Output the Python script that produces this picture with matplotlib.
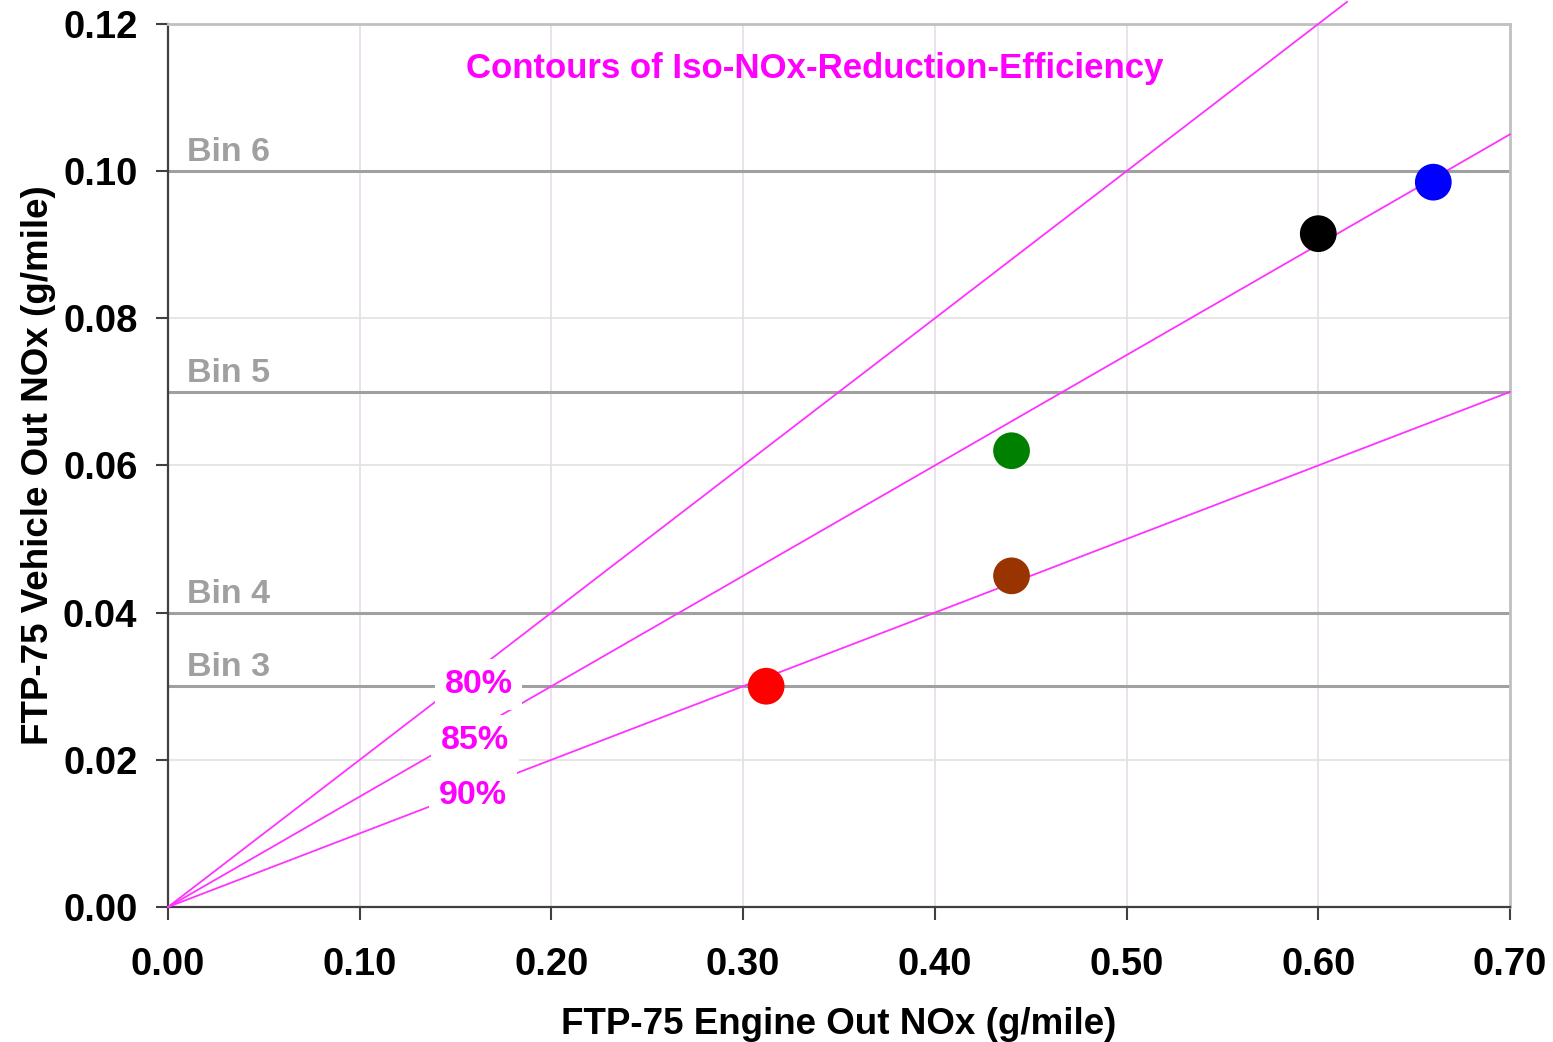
import matplotlib.pyplot as plt
import numpy as np

plt.rcParams['font.family'] = ['Liberation Sans', 'DejaVu Sans']
plt.rcParams['font.weight'] = 'bold'

# data
pt_x = [0.312, 0.44, 0.44, 0.60, 0.66]
pt_y = [0.030, 0.045, 0.062, 0.0915, 0.0985]
pt_colors = ['#ff0000', '#993300', '#008000', '#000000', '#0000ff']

eff_labels = ['80%', '85%', '90%']
eff_values = [0.80, 0.85, 0.90]
eff_label_pos = [(0.162, 0.0302), (0.160, 0.0226), (0.159, 0.0152)]

bin_names = ['Bin 3', 'Bin 4', 'Bin 5', 'Bin 6']
bin_levels = [0.03, 0.04, 0.07, 0.10]

fig = plt.figure(figsize=(15.53, 10.42), dpi=100)
ax = fig.add_axes([0.1082, 0.1296, 0.8641, 0.8474])
ax.set_xlim(0, 0.70)
ax.set_ylim(0, 0.12)

# grid
for gx in np.arange(0.1, 0.70, 0.1):
    ax.axvline(gx, color='#e6dcea', lw=1.2, zorder=0)
for gy in np.arange(0.02, 0.12, 0.02):
    ax.axhline(gy, color='#e2e2e2', lw=1.2, zorder=0)

# bin lines
for name, lv in zip(bin_names, bin_levels):
    ax.axhline(lv, color='#a0a0a0', lw=2.2, zorder=1)
    ax.text(0.01, lv + 0.0004, name, color='#a0a0a0', fontsize=24.5,
            fontweight='bold', ha='left', va='bottom', zorder=2)

# iso-efficiency contours (80% line runs past the top edge)
for eff in eff_values:
    xe = np.array([0.0, 0.615]) if eff == 0.80 else np.array([0.0, 0.70])
    ax.plot(xe, (1 - eff) * xe, color='#ff33ff', lw=1.3, zorder=3, clip_on=False)

for lab, (lx, ly) in zip(eff_labels, eff_label_pos):
    ax.text(lx, ly, lab, color='#ff00ff', fontsize=24.5, fontweight='bold',
            ha='center', va='center', zorder=4,
            bbox=dict(facecolor='white', edgecolor='none', pad=7))

ax.text(0.3375, 0.114, 'Contours of Iso-NOx-Reduction-Efficiency', color='#ff00ff',
        fontsize=25, fontweight='bold', ha='center', va='center', zorder=4)

ax.scatter(pt_x, pt_y, s=700, c=pt_colors, zorder=5, edgecolors='none')

# axes styling
ax.set_xticks(np.arange(0, 0.71, 0.1))
ax.set_yticks(np.arange(0, 0.121, 0.02))
ax.set_xticklabels([f'{v:.2f}' for v in np.arange(0, 0.71, 0.1)])
ax.set_yticklabels([f'{v:.2f}' for v in np.arange(0, 0.121, 0.02)])
ax.tick_params(axis='both', labelsize=27.5, length=9, width=1.5, color='#404040', direction='out')
ax.tick_params(axis='x', pad=20)
ax.tick_params(axis='y', pad=13)
for lbl in ax.get_xticklabels() + ax.get_yticklabels():
    lbl.set_fontweight('bold')
ax.spines['left'].set_color('#404040')
ax.spines['bottom'].set_color('#404040')
ax.spines['left'].set_linewidth(1.6)
ax.spines['bottom'].set_linewidth(1.6)
ax.spines['top'].set_color('#c0c0c0')
ax.spines['right'].set_color('#c0c0c0')
ax.spines['top'].set_linewidth(2)
ax.spines['right'].set_linewidth(2)

ax.set_xlabel('FTP-75 Engine Out NOx (g/mile)', fontsize=26.5, fontweight='bold', labelpad=17)
ax.set_ylabel('FTP-75 Vehicle Out NOx (g/mile)', fontsize=26.5, fontweight='bold', labelpad=5)

fig.savefig('out.png', dpi=100)
